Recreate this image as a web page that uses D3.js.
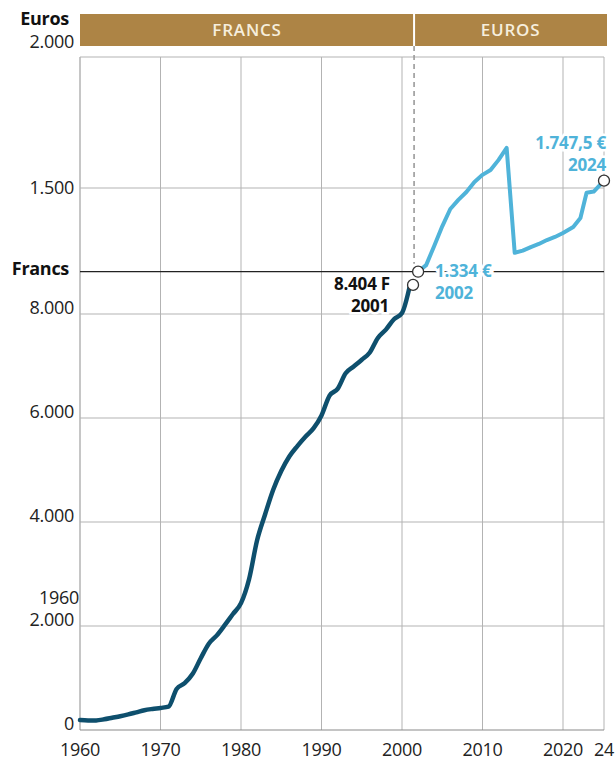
<!DOCTYPE html>
<html>
<head>
<meta charset="utf-8">
<script src="https://cdn.jsdelivr.net/npm/d3@7"></script>
<style>
  body { margin: 0; background: #fff; }
  text { font-family: "Open Sans", Roboto, sans-serif; }
</style>
</head>
<body>
<svg width="616" height="760"></svg>
<script>
// francs period (1960-2001)
const francYears = [1960, 1961, 1962, 1963, 1964, 1965, 1966, 1967, 1968, 1969,
  1970, 1971, 1972, 1973, 1974, 1975, 1976, 1977, 1978, 1979,
  1980, 1981, 1982, 1983, 1984, 1985, 1986, 1987, 1988, 1989,
  1990, 1991, 1992, 1993, 1994, 1995, 1996, 1997, 1998, 1999, 2000, 2001];
const francValues = [190, 185, 185, 205, 235, 265, 300, 340, 380, 405,
  425, 450, 790, 900, 1080, 1380, 1660, 1820, 2020, 2230,
  2440, 2900, 3650, 4150, 4620, 4980, 5260, 5460, 5640, 5800,
  6050, 6430, 6560, 6860, 6990, 7120, 7260, 7540, 7700, 7900, 8020, 8560];

// euros period (2002-2024)
const euroYears = [2002, 2003, 2004, 2005, 2006, 2007, 2008, 2009, 2010, 2011, 2012, 2013,
  2014, 2015, 2016, 2017, 2018, 2019, 2020, 2021, 2021.7, 2022.3, 2023, 2024];
const euroValues = [1334, 1364, 1451, 1540, 1619, 1660, 1696, 1742, 1774, 1796, 1842, 1896,
  1420, 1430, 1446, 1460, 1478, 1492, 1510, 1537, 1578, 1693, 1698, 1747.5];

const xTicks = [1960, 1970, 1980, 1990, 2000, 2010, 2020, 2024];
const xTickLabels = ['1960', '1970', '1980', '1990', '2000', '2010', '2020', '24'];
const francTicks = [0, 2000, 4000, 6000, 8000];
const euroTicks = [1500, 2000];
const switchYear = 2001.5;

const svg = d3.select('svg');
const fmt = d3.formatLocale({ decimal: ',', thousands: '.', grouping: [3], currency: ['', ''] }).format(',');

const gridColor = '#b3b3b3';
const dark = '#0e4f6d';
const light = '#4fb3d9';
const gold = '#ad8445';

const xScale = d3.scaleLinear()
  .domain([1960, 2020, 2024])
  .range([80, 563, 604]);

const yFranc = d3.scaleLinear()
  .domain([0, 8000])
  .range([730, 314]);

// scale for the euro curve
const yEuro = d3.scaleLinear()
  .domain([1300, 1900])
  .range([279.2, 147.1]);

// scale for the euro tick labels (top part of the left axis)
const yEuroAxis = d3.scaleLinear()
  .domain([1500, 2000])
  .range([188, 57]);

const plotLeft = xScale(1960), plotRight = xScale(2024);
const plotTop = yEuroAxis(2000), plotBottom = yFranc(0);

// band on top
const bandY = 14, bandH = 32;
const xSwitch = xScale(switchYear);
svg.append('rect').attr('x', plotLeft).attr('y', bandY)
  .attr('width', xSwitch - plotLeft - 1).attr('height', bandH).attr('fill', gold);
svg.append('rect').attr('x', xSwitch + 1).attr('y', bandY)
  .attr('width', plotRight + 3 - xSwitch - 1).attr('height', bandH).attr('fill', gold);
const bandText = svg.append('g').attr('text-anchor', 'middle').attr('fill', '#f6eedd')
  .attr('font-size', 17).attr('font-weight', 600).attr('letter-spacing', 0.8);
bandText.append('text').attr('x', (plotLeft + xSwitch) / 2).attr('y', bandY + 22).text('FRANCS');
bandText.append('text').attr('x', (xSwitch + plotRight + 3) / 2).attr('y', bandY + 22).text('EUROS');

// grid
const grid = svg.append('g').attr('stroke', gridColor).attr('stroke-width', 1);
grid.selectAll('.v').data(xTicks).join('line')
  .attr('x1', d => xScale(d)).attr('x2', d => xScale(d))
  .attr('y1', plotTop).attr('y2', plotBottom);
grid.append('line').attr('x1', plotLeft).attr('x2', plotLeft).attr('y1', plotTop).attr('y2', plotBottom);
grid.selectAll('.hf').data(francTicks.slice(1)).join('line')
  .attr('x1', plotLeft).attr('x2', plotRight)
  .attr('y1', d => yFranc(d)).attr('y2', d => yFranc(d));
grid.selectAll('.he').data(euroTicks).join('line')
  .attr('x1', plotLeft).attr('x2', plotRight)
  .attr('y1', d => yEuroAxis(d)).attr('y2', d => yEuroAxis(d));
svg.append('line').attr('x1', plotLeft).attr('x2', plotRight)
  .attr('y1', plotBottom).attr('y2', plotBottom).attr('stroke', '#8a8a8a').attr('stroke-width', 1.2);

// separator francs / euros
const sepY = yEuro(euroValues[0]);
svg.append('line').attr('x1', plotLeft).attr('x2', plotRight)
  .attr('y1', sepY).attr('y2', sepY).attr('stroke', '#222').attr('stroke-width', 1.2);

// dashed changeover line
svg.append('line')
  .attr('x1', xSwitch).attr('x2', xSwitch)
  .attr('y1', bandY + bandH).attr('y2', sepY - 8)
  .attr('stroke', '#9a9a9a').attr('stroke-width', 1.6).attr('stroke-dasharray', '5,4');

// left axis labels
const axisText = svg.append('g').attr('font-size', 18).attr('fill', '#222')
  .attr('text-anchor', 'end').attr('letter-spacing', -0.3);
axisText.selectAll('.fl').data(francTicks).join('text')
  .attr('x', 74).attr('y', d => yFranc(d))
  .text(d => fmt(d));
axisText.selectAll('.el').data(euroTicks).join('text')
  .attr('x', 74).attr('y', d => d === 2000 ? yEuroAxis(d) - 9 : yEuroAxis(d) + 6)
  .text(d => fmt(d));
axisText.append('text').attr('x', 79).attr('y', yFranc(2000) - 22).text('1960');
axisText.append('text').attr('x', 69).attr('y', 25)
  .attr('font-weight', 700).attr('fill', '#111').text('Euros');
axisText.append('text').attr('x', 69).attr('y', sepY + 3)
  .attr('font-weight', 700).attr('fill', '#111').text('Francs');

// x axis labels
svg.append('g').attr('font-size', 18).attr('fill', '#222').attr('text-anchor', 'middle')
  .attr('letter-spacing', -0.3)
  .selectAll('text').data(xTicks).join('text')
  .attr('x', d => xScale(d)).attr('y', 756)
  .text((d, i) => xTickLabels[i]);

// lines
const francData = francYears.map((y, i) => ({ year: y, value: francValues[i] }));
const euroData = euroYears.map((y, i) => ({ year: y, value: euroValues[i] }));

const francLine = d3.line().x(d => xScale(d.year)).y(d => yFranc(d.value))
  .curve(d3.curveMonotoneX);
const euroLine = d3.line().x(d => xScale(d.year)).y(d => yEuro(d.value));

svg.append('path').attr('d', francLine(francData))
  .attr('fill', 'none').attr('stroke', dark).attr('stroke-width', 4.5)
  .attr('stroke-linejoin', 'round').attr('stroke-linecap', 'round');
svg.append('path').attr('d', euroLine(euroData))
  .attr('fill', 'none').attr('stroke', light).attr('stroke-width', 4)
  .attr('stroke-linejoin', 'round').attr('stroke-linecap', 'round');

// end circles
const lastF = francData[francData.length - 1];
const firstE = euroData[0];
const lastE = euroData[euroData.length - 1];
const circles = [
  [xScale(lastF.year) + 3, yFranc(lastF.value)],
  [xScale(firstE.year), yEuro(firstE.value)],
  [xScale(lastE.year), yEuro(lastE.value)]
];
svg.selectAll('circle').data(circles).join('circle')
  .attr('cx', d => d[0]).attr('cy', d => d[1]).attr('r', 5.5)
  .attr('fill', '#fff').attr('stroke', '#333').attr('stroke-width', 1.3);

// annotations
const ann = svg.append('g').attr('font-size', 17).attr('font-weight', 700)
  .attr('letter-spacing', -0.2)
  .attr('stroke', '#fff').attr('stroke-width', 5).attr('paint-order', 'stroke');
ann.append('text').attr('x', 390).attr('y', 290).attr('text-anchor', 'end')
  .attr('fill', '#111').text(fmt(8404) + ' F');
ann.append('text').attr('x', 389).attr('y', 312).attr('text-anchor', 'end')
  .attr('fill', '#111').text(lastF.year);
ann.append('text').attr('x', 435).attr('y', 277)
  .attr('fill', light).text(fmt(firstE.value) + ' €');
ann.append('text').attr('x', 435).attr('y', 299)
  .attr('fill', light).text(firstE.year);
ann.append('text').attr('x', 606).attr('y', 149).attr('text-anchor', 'end')
  .attr('fill', light).text('1.747,5 €');
ann.append('text').attr('x', 606).attr('y', 171).attr('text-anchor', 'end')
  .attr('fill', light).text(lastE.year);
</script>
</body>
</html>
